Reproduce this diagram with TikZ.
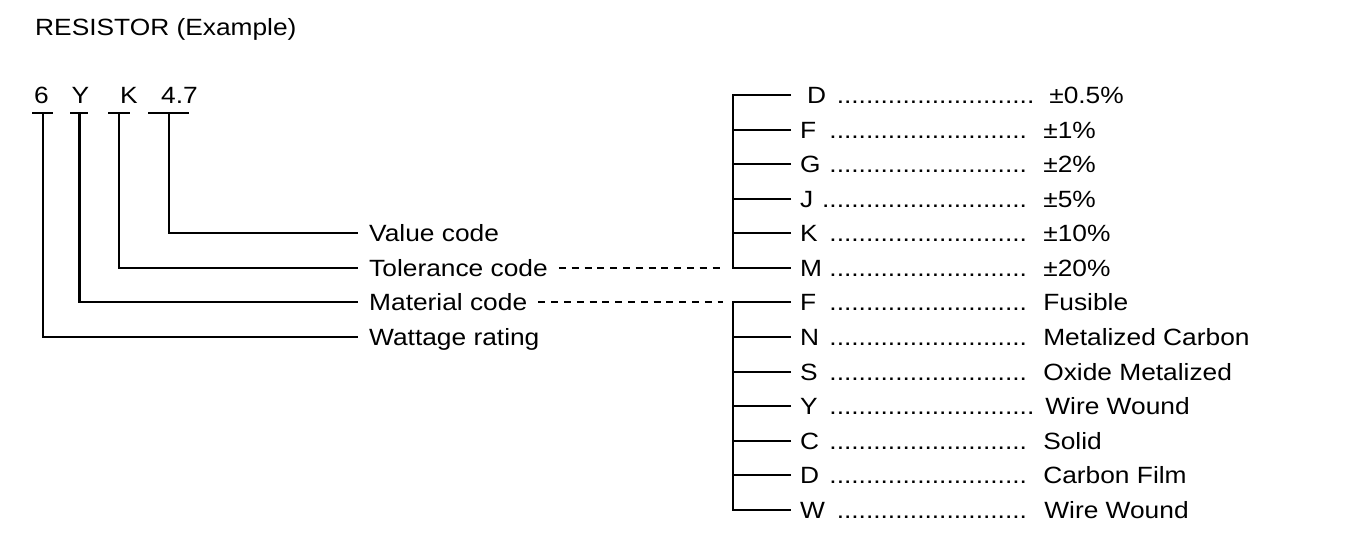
\documentclass[tikz,border=0pt]{standalone}
\usepackage{fontspec}
\setmainfont[FakeStretch=1.12]{Liberation Sans}
\newcommand{\dotrow}[3]{\makebox[#1][l]{#2 \leaders\hbox{.}\hfill\hspace{10pt}}#3}
\begin{document}
\begin{tikzpicture}[x=1pt,y=-1pt,
  every node/.style={font=\fontsize{23.5}{28}\selectfont, text=black},
  conn/.style={line width=2.2pt, line join=miter},
  dashline/.style={line width=1.8pt, dash pattern=on 7pt off 5.8pt},
  codelbl/.style={anchor=base west, inner sep=0pt},
  leftlbl/.style={anchor=west, inner ysep=0pt, inner xsep=11pt, text height=16.8pt, text depth=0pt},
  rowlbl/.style={anchor=west, inner ysep=0pt, inner xsep=9pt, text height=16.8pt, text depth=0pt}]
\useasboundingbox (0,0) rectangle (1359,554);

% title
\node[codelbl] (title) at (35,35) {RESISTOR (Example)};

% code characters
\node[codelbl] (c6) at (34,103) {6};
\node[codelbl] (cY) at (71.5,103) {Y};
\node[codelbl] (cK) at (120,103) {K};
\node[codelbl] (c47) at (161,103) {4.7};

% underlines and drop points
\coordinate (u6a) at (32.3,113);  \coordinate (u6b) at (53.3,113);  \coordinate (v6) at (43,113);
\coordinate (uYa) at (70,113);    \coordinate (uYb) at (88.3,113);  \coordinate (vY) at (79.5,113);
\coordinate (uKa) at (108,113);   \coordinate (uKb) at (130,113);   \coordinate (vK) at (119,113);
\coordinate (u47a) at (148,113);  \coordinate (u47b) at (189,113);  \coordinate (v47) at (169,113);

% left labels
\node[leftlbl] (lv) at (358,233) {Value code};
\node[leftlbl] (lt) at (358,268) {Tolerance code};
\node[leftlbl] (lm) at (358,302) {Material code};
\node[leftlbl] (lw) at (358,337) {Wattage rating};

\draw[conn] (u6a) -- (u6b);
\draw[conn] (uYa) -- (uYb);
\draw[conn] (uKa) -- (uKb);
\draw[conn] (u47a) -- (u47b);
\draw[conn] (v47) |- (lv.west);
\draw[conn] (vK) |- (lt.west);
\draw[conn] (vY) |- (lm.west);
\draw[conn] (v6) |- (lw.west);

% tolerance rows
\node[rowlbl] (r1) at (791,95)  {\dotrow{249pt}{\hspace*{7pt}D}{±0.5\%}};
\node[rowlbl] (r2) at (791,130) {\dotrow{243pt}{F}{±1\%}};
\node[rowlbl] (r3) at (791,164) {\dotrow{243pt}{G}{±2\%}};
\node[rowlbl] (r4) at (791,199) {\dotrow{243pt}{J}{±5\%}};
\node[rowlbl] (r5) at (791,233) {\dotrow{243pt}{K}{±10\%}};
\node[rowlbl] (r6) at (791,268) {\dotrow{243pt}{M}{±20\%}};

% material rows
\node[rowlbl] (m1) at (791,302) {\dotrow{243pt}{F}{Fusible}};
\node[rowlbl] (m2) at (791,337) {\dotrow{243pt}{N}{Metalized Carbon}};
\node[rowlbl] (m3) at (791,372) {\dotrow{243pt}{S}{Oxide Metalized}};
\node[rowlbl] (m4) at (791,406) {\dotrow{245pt}{Y}{Wire Wound}};
\node[rowlbl] (m5) at (791,441) {\dotrow{243pt}{C}{Solid}};
\node[rowlbl] (m6) at (791,475) {\dotrow{243pt}{D}{Carbon Film}};
\node[rowlbl] (m7) at (791,510) {\dotrow{244pt}{W}{Wire Wound}};

% bracket spines
\coordinate (k1) at (733,180);
\coordinate (k2) at (733,400);

\draw[conn] (r1.west) -| (k1) |- (r6.west);
\foreach \r in {r2,r3,r4,r5} \draw[conn] (\r.west) -- (\r.west -| k1);
\draw[conn] (m1.west) -| (k2) |- (m7.west);
\foreach \r in {m2,m3,m4,m5,m6} \draw[conn] (\r.west) -- (\r.west -| k2);

% dashed links
\draw[dashline, shorten >=10pt] (lt.east) -- (lt.east -| k1);
\draw[dashline, shorten >=10pt] (lm.east) -- (lm.east -| k2);
\end{tikzpicture}
\end{document}
